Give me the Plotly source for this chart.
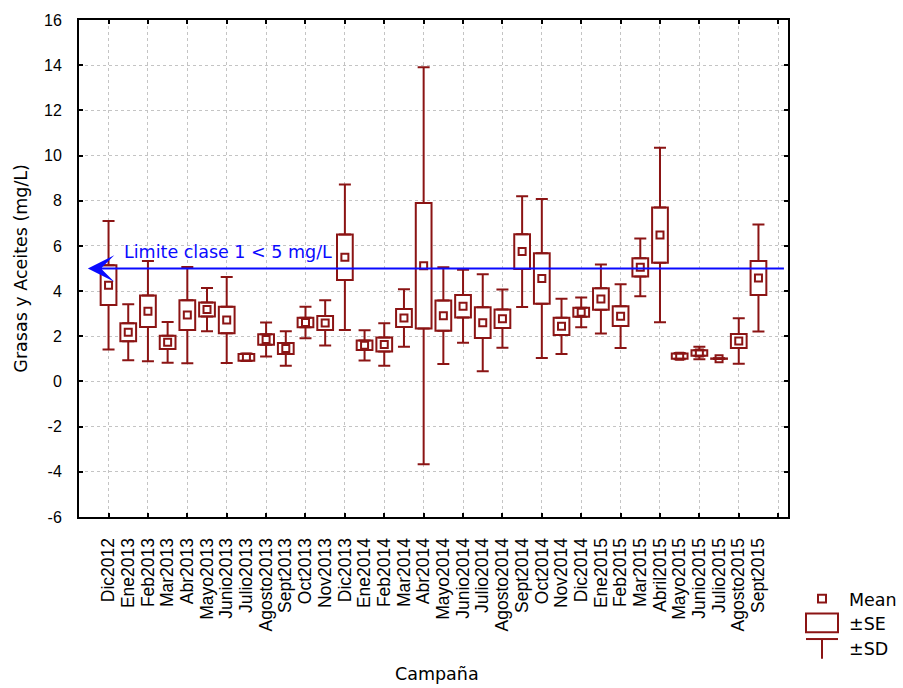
import plotly.graph_objects as go

# Sampling campaigns (Dec 2012 - Sep 2015)
campaigns = [
    "Dic2012", "Ene2013", "Feb2013", "Mar2013", "Abr2013", "Mayo2013",
    "Junio2013", "Julio2013", "Agosto2013", "Sept2013", "Oct2013", "Nov2013",
    "Dic2013", "Ene2014", "Feb2014", "Mar2014", "Abr2014", "Mayo2014",
    "Junio2014", "Julio2014", "Agosto2014", "Sept2014", "Oct2014", "Nov2014",
    "Dic2014", "Ene2015", "Feb2015", "Mar2015", "Abril2015", "Mayo2015",
    "Junio2015", "Julio2015", "Agosto2015", "Sept2015",
]

# Grasas y aceites (mg/L): mean, standard error and standard deviation
means = [
    4.26, 2.18, 3.11, 1.73, 2.94, 3.18, 2.72, 1.07, 1.86, 1.46, 2.61, 2.59,
    5.50, 1.60, 1.64, 2.81, 5.12, 2.91, 3.33, 2.60, 2.78, 5.75, 4.56, 2.44,
    3.06, 3.65, 2.89, 5.05, 6.48, 1.12, 1.26, 1.01, 1.79, 4.58,
]
se = [
    0.88, 0.40, 0.70, 0.29, 0.66, 0.31, 0.59, 0.15, 0.23, 0.24, 0.21, 0.31,
    1.01, 0.21, 0.31, 0.40, 2.78, 0.67, 0.50, 0.68, 0.41, 0.77, 1.12, 0.38,
    0.20, 0.48, 0.44, 0.40, 1.22, 0.12, 0.12, 0.01, 0.31, 0.75,
]
sd = [
    2.84, 1.24, 2.22, 0.90, 2.13, 0.96, 1.90, 0.17, 0.75, 0.76, 0.70, 1.00,
    3.22, 0.67, 0.94, 1.27, 8.79, 2.14, 1.62, 2.15, 1.29, 2.45, 3.52, 1.22,
    0.66, 1.53, 1.41, 1.28, 3.86, 0.14, 0.28, 0.02, 1.01, 2.37,
]

LIMIT = 5.0
LIMIT_LABEL = "Limite clase 1 &lt; 5 mg/L"

y_ticks = list(range(-6, 17, 2))

RED = "#8b1414"
BLUE = "#0a0aff"
GRID = "#c4c4c4"
TICK_FONT = "Arial"
TEXT_FONT = "DejaVu Sans"

idx = list(range(len(campaigns)))
box_base = [m - s for m, s in zip(means, se)]
box_height = [2 * s for s in se]
upper_edge = [m + s for m, s in zip(means, se)]
lower_edge = [m - s for m, s in zip(means, se)]
whisker = [d - s for d, s in zip(sd, se)]
zeros = [0] * len(idx)

fig = go.Figure()

# +-SE boxes
fig.add_trace(go.Bar(
    x=idx, y=box_height, base=box_base, width=0.8,
    marker=dict(color="white", line=dict(color=RED, width=2)),
    showlegend=False, hoverinfo="skip",
))

# +-SD whiskers (from the box edges out to mean +- SD)
fig.add_trace(go.Scatter(
    x=idx, y=upper_edge, mode="markers",
    marker=dict(size=1, opacity=0),
    error_y=dict(type="data", symmetric=False, array=whisker, arrayminus=zeros,
                 color=RED, thickness=2, width=6),
    showlegend=False, hoverinfo="skip",
))
fig.add_trace(go.Scatter(
    x=idx, y=lower_edge, mode="markers",
    marker=dict(size=1, opacity=0),
    error_y=dict(type="data", symmetric=False, array=zeros, arrayminus=whisker,
                 color=RED, thickness=2, width=6),
    showlegend=False, hoverinfo="skip",
))

# Means
fig.add_trace(go.Scatter(
    x=idx, y=means, mode="markers",
    marker=dict(symbol="square-open", size=7, color=RED, line=dict(width=2, color=RED)),
    showlegend=False,
))

# Empty trace so the tick/grid overlay axis is drawn
fig.add_trace(go.Scatter(
    x=[0], y=[None], xaxis="x2", yaxis="y", mode="markers",
    showlegend=False, hoverinfo="skip",
))

x_range = [-1.5, 34.5]

fig.update_layout(
    width=903, height=688,
    margin=dict(l=79, r=115, t=12, b=171),
    paper_bgcolor="white", plot_bgcolor="white",
    showlegend=False,
    xaxis=dict(
        range=x_range, tickmode="array", tickvals=idx, ticktext=campaigns,
        tickangle=-90, ticks="", showgrid=False, zeroline=False,
        showline=True, linecolor="black", linewidth=2, mirror=True,
        tickfont=dict(family=TICK_FONT, size=17.5, color="black"),
        ticklabelstandoff=12,
    ),
    xaxis2=dict(
        overlaying="x", anchor="y", side="bottom", range=x_range,
        tickmode="array", tickvals=list(range(0, 35, 2)),
        ticks="inside", ticklen=4, tickwidth=2, tickcolor="black",
        showticklabels=False, showgrid=True, gridcolor=GRID, griddash="dot",
        gridwidth=1, zeroline=False, showline=True, linecolor="black",
        linewidth=2, mirror="ticks",
    ),
    yaxis=dict(
        range=[-6, 16], tickmode="array", tickvals=y_ticks,
        ticktext=[str(v) for v in y_ticks],
        ticks="inside", ticklen=4, tickwidth=2, tickcolor="black",
        showgrid=True, gridcolor=GRID, griddash="dot", gridwidth=1,
        zeroline=False, showline=True, linecolor="black", linewidth=2,
        mirror="ticks",
        tickfont=dict(family=TICK_FONT, size=16, color="black"),
        ticklabelstandoff=12,
    ),
)

# Class-1 limit line with arrow
fig.add_annotation(
    x=-1.05, y=LIMIT, ax=34.37, ay=LIMIT,
    xref="x", yref="y", axref="x", ayref="y",
    text="", showarrow=True, arrowhead=3, arrowsize=2.2, arrowwidth=2,
    arrowcolor=BLUE, standoff=0,
)
fig.add_annotation(
    x=0.66, y=5.75, xref="x", yref="y", xanchor="left", yanchor="middle",
    text=LIMIT_LABEL, showarrow=False,
    font=dict(family=TEXT_FONT, size=17.5, color=BLUE),
)

# Axis titles
fig.add_annotation(
    x=0.505, y=-0.315, xref="paper", yref="paper", xanchor="center", yanchor="middle",
    text="Campaña", showarrow=False,
    font=dict(family=TEXT_FONT, size=17.5, color="black"),
)
fig.add_annotation(
    x=-0.083, y=0.5, xref="paper", yref="paper", xanchor="center", yanchor="middle",
    text="Grasas y Aceites (mg/L)", textangle=-90, showarrow=False,
    font=dict(family=TEXT_FONT, size=17.5, color="black"),
)

# Legend key (bottom right, outside the plot area)
def px_x(px):
    return (px - 79) / 709.0


def px_y(py):
    return (517 - py) / 505.0


fig.add_shape(type="rect", xref="paper", yref="paper",
              x0=px_x(818), x1=px_x(826), y0=px_y(604), y1=px_y(596),
              line=dict(color=RED, width=2), fillcolor="white")
fig.add_shape(type="rect", xref="paper", yref="paper",
              x0=px_x(806), x1=px_x(838), y0=px_y(634), y1=px_y(615),
              line=dict(color=RED, width=2), fillcolor="white")
fig.add_shape(type="line", xref="paper", yref="paper",
              x0=px_x(806), x1=px_x(838), y0=px_y(641), y1=px_y(641),
              line=dict(color=RED, width=2))
fig.add_shape(type="line", xref="paper", yref="paper",
              x0=px_x(822), x1=px_x(822), y0=px_y(641), y1=px_y(661),
              line=dict(color=RED, width=2))
for label, py in [("Mean", 601), ("±SE", 626), ("±SD", 651)]:
    fig.add_annotation(
        x=px_x(847), y=px_y(py), xref="paper", yref="paper",
        xanchor="left", yanchor="middle", text=label, showarrow=False,
        font=dict(family=TEXT_FONT, size=17.5, color="black"),
    )

fig.write_html("out.html")
